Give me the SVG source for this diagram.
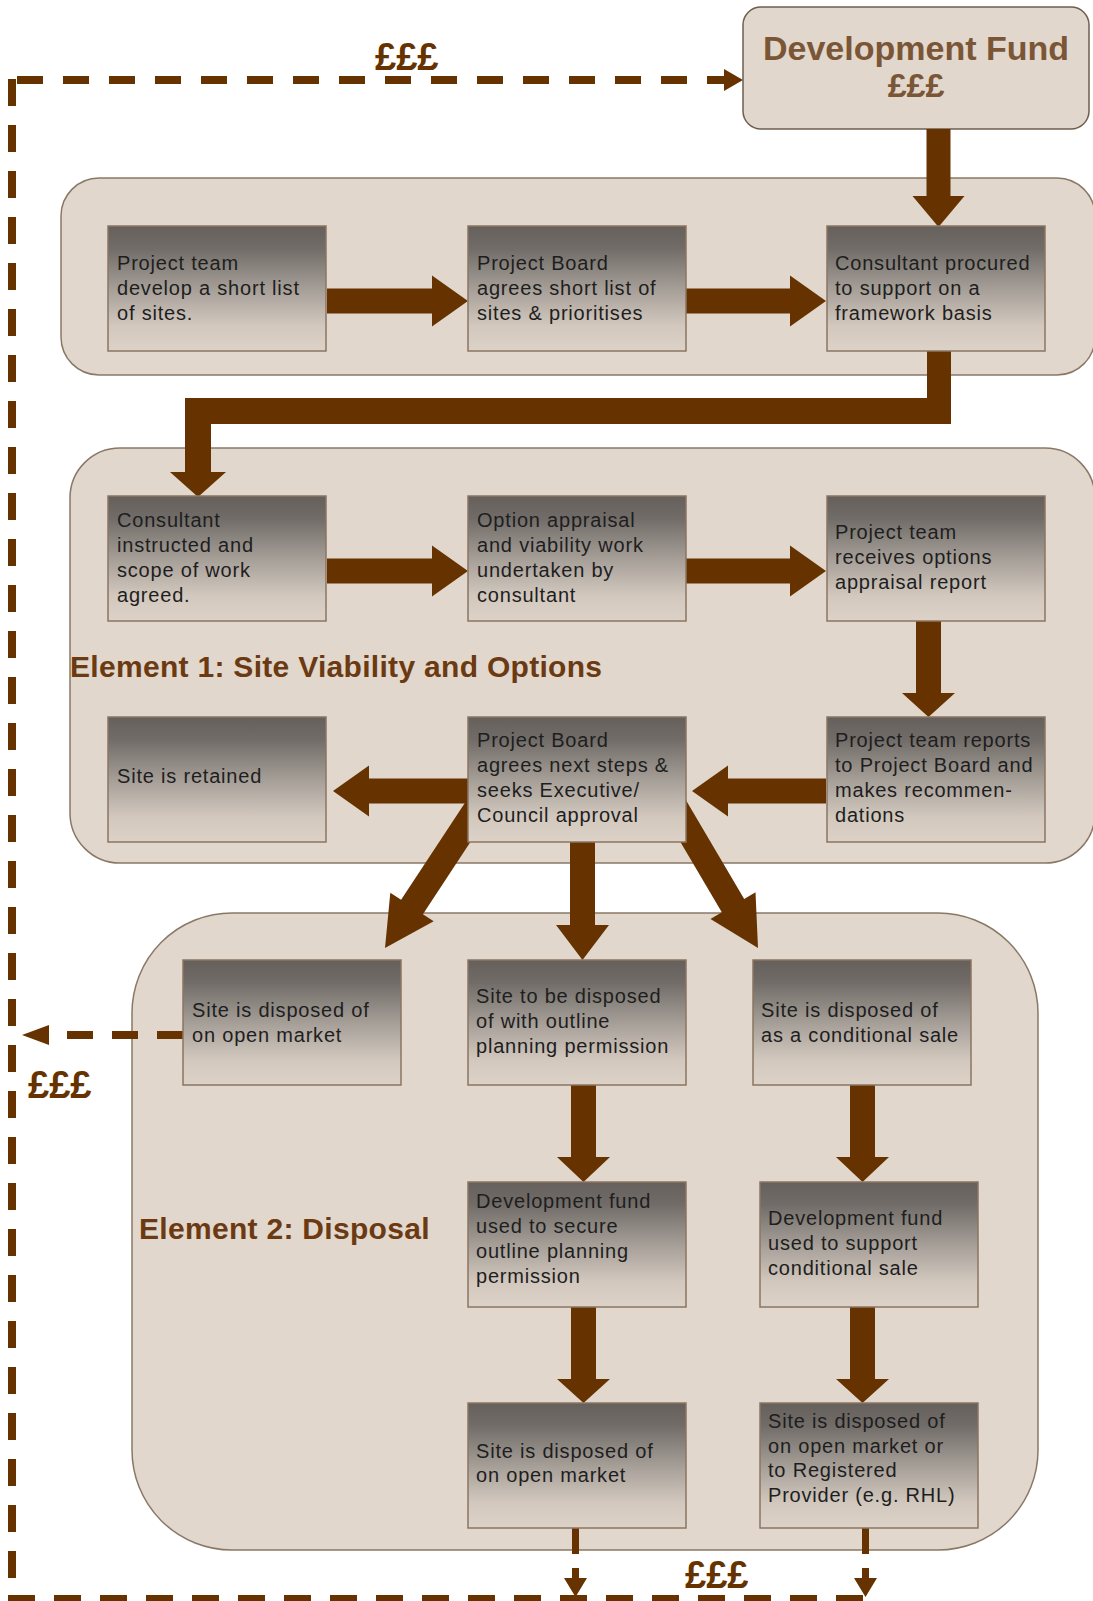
<svg xmlns="http://www.w3.org/2000/svg" width="1093" height="1601" viewBox="0 0 1093 1601">
<defs>
<linearGradient id="boxg" x1="0" y1="0" x2="0" y2="1">
<stop offset="0" stop-color="#65605c"/>
<stop offset="0.18" stop-color="#716c68"/>
<stop offset="0.5" stop-color="#a59e97"/>
<stop offset="0.8" stop-color="#d2c8be"/>
<stop offset="1" stop-color="#dcd2c7"/>
</linearGradient>
</defs>
<style>
.cont{fill:#e1d7cc;stroke:#8a7866;stroke-width:1.5}
.box{fill:url(#boxg);stroke:#8b7561;stroke-width:1.5}
.t{font-family:"Liberation Sans",Arial,sans-serif;font-size:20px;letter-spacing:0.8px;fill:#1e1e1e}
.h{font-family:"Liberation Sans",Arial,sans-serif;font-weight:bold;font-size:30px;letter-spacing:0.3px;fill:#6b3a12}
.ar{fill:#663300}
.dash{stroke:#663300;stroke-width:8;fill:none}
.pound{font-family:"Liberation Sans",Arial,sans-serif;font-weight:bold;font-size:38px;fill:#663300}
</style>
<rect width="1093" height="1601" fill="#ffffff"/>

<g id="stage0"><rect class="cont" x="61" y="178" width="1034" height="197" rx="38"/></g>
<g id="element1"><rect class="cont" x="70" y="448" width="1025" height="415" rx="50"/><text class="h" x="70" y="677">Element 1: Site Viability and Options</text></g>
<g id="element2"><rect class="cont" x="132" y="913" width="906" height="637" rx="100"/><text class="h" x="139" y="1239">Element 2: Disposal</text></g>

<g id="devfund"><rect x="743" y="7" width="346" height="122" rx="18" fill="#e1d7cc" stroke="#6f5e4e" stroke-width="1.5"/>
<text x="916" y="60" text-anchor="middle" font-family="Liberation Sans, Arial, sans-serif" font-weight="bold" font-size="34" fill="#7a5636">Development Fund</text>
<text x="916" y="97" text-anchor="middle" font-family="Liberation Sans, Arial, sans-serif" font-weight="bold" font-size="34" fill="#7a5636">£££</text></g>

<g id="connectors">
<path class="ar" d="M926.5,129 H950.5 V196 H964.5 L938.5,227 L912.5,196 H926.5 Z"/>
<path class="ar" d="M327,288.5 H432 V275.5 L468,301 L432,326.5 V313.5 H327 Z"/>
<path class="ar" d="M686,288.5 H790 V275.5 L826,301 L790,326.5 V313.5 H686 Z"/>
<path class="ar" d="M927,351 H951 V424 H211 V472 H226 L198,497 L170,472 H185 V398 H927 Z"/>
<path class="ar" d="M327,558.5 H432 V545.5 L468,571 L432,596.5 V583.5 H327 Z"/>
<path class="ar" d="M686,558.5 H790 V545.5 L826,571 L790,596.5 V583.5 H686 Z"/>
<path class="ar" d="M916,621 H941 V693 H955 L928.5,717 L902,693 H916 Z"/>
<path class="ar" d="M826,778.5 H728 V765.5 L692,791 L728,816.5 V803.5 H826 Z"/>
<path class="ar" d="M468,778.5 H369 V765.5 L333,791 L369,816.5 V803.5 H468 Z"/>
<polygon class="ar" points="494.4,805.6 422.9,914.2 433.7,921.3 385,948 390.3,892.7 401.1,899.8 472.6,791.2"/>
<polygon class="ar" points="677.9,786.5 744.2,899 755.5,892.3 758,948 710.5,918.9 721.8,912.2 655.5,799.7"/>
<path class="ar" d="M570,842 H595 V925 H609 L582.5,960 L556,925 H570 Z"/>
<path class="ar" d="M571,1085 H596 V1157 H610 L583.5,1182 L557,1157 H571 Z"/>
<path class="ar" d="M850,1085 H875 V1157 H889 L862.5,1182 L836,1157 H850 Z"/>
<path class="ar" d="M571,1307 H596 V1379 H610 L583.5,1403 L557,1379 H571 Z"/>
<path class="ar" d="M850,1307 H875 V1379 H889 L862.5,1403 L836,1379 H850 Z"/>
<line class="dash" x1="17" y1="80" x2="724" y2="80" stroke-dasharray="26 20"/>
<polygon class="ar" points="724,69 743,80 724,91"/>
<line class="dash" x1="12" y1="79" x2="12" y2="1601" stroke-dasharray="27 19"/>
<line class="dash" x1="8" y1="1599" x2="870" y2="1599" stroke-dasharray="27 19"/>
<line class="dash" x1="183" y1="1035" x2="48" y2="1035" stroke-dasharray="26 19"/>
<polygon class="ar" points="49,1025 22,1035 49,1045"/>
<rect class="ar" x="572" y="1527" width="7" height="27"/>
<path class="ar" d="M572,1568 H579 V1578 H587 L575.5,1597 L564,1578 H572 Z"/>
<rect class="ar" x="862" y="1527" width="7" height="27"/>
<path class="ar" d="M862,1568 H869 V1578 H877 L865.5,1597 L854,1578 H862 Z"/>
<text class="pound" x="375" y="70">£££</text>
<text class="pound" x="28" y="1098">£££</text>
<text class="pound" x="685" y="1588">£££</text>
</g>

<g id="n1"><rect class="box" x="108" y="226" width="218" height="125"/><text class="t"><tspan x="117" y="270">Project team</tspan><tspan x="117" y="295">develop a short list</tspan><tspan x="117" y="320">of sites.</tspan></text></g>
<g id="n2"><rect class="box" x="468" y="226" width="218" height="125"/><text class="t"><tspan x="477" y="270">Project Board</tspan><tspan x="477" y="295">agrees short list of</tspan><tspan x="477" y="320">sites &amp; prioritises</tspan></text></g>
<g id="n3"><rect class="box" x="827" y="226" width="218" height="125"/><text class="t"><tspan x="835" y="270">Consultant procured</tspan><tspan x="835" y="295">to support on a</tspan><tspan x="835" y="320">framework basis</tspan></text></g>

<g id="n4"><rect class="box" x="108" y="496" width="218" height="125"/><text class="t"><tspan x="117" y="527">Consultant</tspan><tspan x="117" y="552">instructed and</tspan><tspan x="117" y="577">scope of work</tspan><tspan x="117" y="602">agreed.</tspan></text></g>
<g id="n5"><rect class="box" x="468" y="496" width="218" height="125"/><text class="t"><tspan x="477" y="527">Option appraisal</tspan><tspan x="477" y="552">and viability work</tspan><tspan x="477" y="577">undertaken by</tspan><tspan x="477" y="602">consultant</tspan></text></g>
<g id="n6"><rect class="box" x="827" y="496" width="218" height="125"/><text class="t"><tspan x="835" y="539">Project team</tspan><tspan x="835" y="564">receives options</tspan><tspan x="835" y="589">appraisal report</tspan></text></g>

<g id="n7"><rect class="box" x="108" y="717" width="218" height="125"/><text class="t"><tspan x="117" y="783">Site is retained</tspan></text></g>
<g id="n8"><rect class="box" x="468" y="717" width="218" height="125"/><text class="t"><tspan x="477" y="747">Project Board</tspan><tspan x="477" y="772">agrees next steps &amp;</tspan><tspan x="477" y="797">seeks Executive/</tspan><tspan x="477" y="822">Council approval</tspan></text></g>
<g id="n9"><rect class="box" x="827" y="717" width="218" height="125"/><text class="t"><tspan x="835" y="747">Project team reports</tspan><tspan x="835" y="772">to Project Board and</tspan><tspan x="835" y="797">makes recommen-</tspan><tspan x="835" y="822">dations</tspan></text></g>

<g id="n10"><rect class="box" x="183" y="960" width="218" height="125"/><text class="t"><tspan x="192" y="1017">Site is disposed of</tspan><tspan x="192" y="1042">on open market</tspan></text></g>
<g id="n11"><rect class="box" x="468" y="960" width="218" height="125"/><text class="t"><tspan x="476" y="1003">Site to be disposed</tspan><tspan x="476" y="1028">of with outline</tspan><tspan x="476" y="1053">planning permission</tspan></text></g>
<g id="n12"><rect class="box" x="753" y="960" width="218" height="125"/><text class="t"><tspan x="761" y="1017">Site is disposed of</tspan><tspan x="761" y="1042">as a conditional sale</tspan></text></g>

<g id="n13"><rect class="box" x="468" y="1182" width="218" height="125"/><text class="t"><tspan x="476" y="1208">Development fund</tspan><tspan x="476" y="1233">used to secure</tspan><tspan x="476" y="1258">outline planning</tspan><tspan x="476" y="1283">permission</tspan></text></g>
<g id="n14"><rect class="box" x="760" y="1182" width="218" height="125"/><text class="t"><tspan x="768" y="1225">Development fund</tspan><tspan x="768" y="1250">used to support</tspan><tspan x="768" y="1275">conditional sale</tspan></text></g>

<g id="n15"><rect class="box" x="468" y="1403" width="218" height="125"/><text class="t"><tspan x="476" y="1458">Site is disposed of</tspan><tspan x="476" y="1482">on open market</tspan></text></g>
<g id="n16"><rect class="box" x="760" y="1403" width="218" height="125"/><text class="t"><tspan x="768" y="1428">Site is disposed of</tspan><tspan x="768" y="1453">on open market or</tspan><tspan x="768" y="1477">to Registered</tspan><tspan x="768" y="1502">Provider (e.g. RHL)</tspan></text></g>
</svg>
